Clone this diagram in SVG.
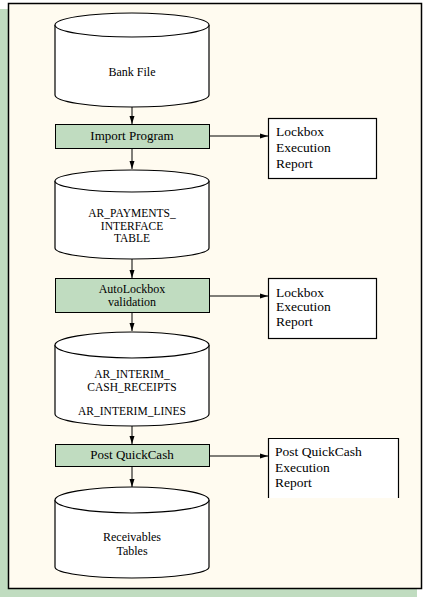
<svg xmlns="http://www.w3.org/2000/svg" width="424" height="597" viewBox="0 0 424 597">
<style>
.shape{stroke:#000;stroke-width:1.2;fill:#fff}
.proc{stroke:#000;stroke-width:1;fill:#c0dcc0}
.lbl{font-family:"Liberation Serif",serif;font-size:12px;fill:#000;text-anchor:middle}
.rep{font-family:"Liberation Serif",serif;font-size:13.5px;fill:#000}
.conn{stroke:#000;stroke-width:1;fill:none}
</style>
<defs>
<marker id="ah" viewBox="0 0 8 6" refX="8" refY="3" markerWidth="8" markerHeight="6" markerUnits="userSpaceOnUse" orient="auto">
<path d="M0,0.5 L8,3 L0,5.5 Z" fill="#000"/>
</marker>
</defs>
<rect x="0" y="0" width="424" height="597" fill="#fff"/>
<rect x="0" y="9" width="417" height="588" fill="#c0dcc0"/>
<rect x="8.5" y="3.5" width="413" height="585" fill="#fffbf0" stroke="#000" stroke-width="1.5"/>

<g id="connectors">
<line class="conn" x1="132" y1="107" x2="132" y2="124" marker-end="url(#ah)"/>
<line class="conn" x1="132" y1="148" x2="132" y2="169" marker-end="url(#ah)"/>
<line class="conn" x1="132" y1="259" x2="132" y2="278" marker-end="url(#ah)"/>
<line class="conn" x1="132" y1="313" x2="132" y2="331" marker-end="url(#ah)"/>
<line class="conn" x1="132" y1="426" x2="132" y2="444" marker-end="url(#ah)"/>
<line class="conn" x1="132" y1="466" x2="132" y2="487" marker-end="url(#ah)"/>
<line class="conn" x1="209" y1="136" x2="268" y2="136" marker-end="url(#ah)"/>
<line class="conn" x1="209" y1="296" x2="268" y2="296" marker-end="url(#ah)"/>
<line class="conn" x1="209" y1="456" x2="268" y2="456" marker-end="url(#ah)"/>
</g>

<g id="bank-file">
<path class="shape" d="M55,25 A77,12 0 0 1 209,25 L209,95 A77,12 0 0 1 55,95 Z"/>
<path class="shape" fill="none" d="M55,25 A77,12 0 0 0 209,25"/>
<text class="lbl" x="132" y="76">Bank File</text>
</g>

<g id="import-program">
<rect class="proc" x="55.5" y="124.5" width="154" height="24"/>
<text class="lbl" x="132" y="140" style="font-size:13px">Import Program</text>
</g>

<g id="report-1">
<rect class="shape" x="268.5" y="118.5" width="108" height="60"/>
<text class="rep" x="276" y="136">Lockbox</text>
<text class="rep" x="276" y="152">Execution</text>
<text class="rep" x="276" y="168">Report</text>
</g>

<g id="ar-payments">
<path class="shape" d="M55,181 A77,11 0 0 1 209,181 L209,248 A77,11 0 0 1 55,248 Z"/>
<path class="shape" fill="none" d="M55,181 A77,11 0 0 0 209,181"/>
<text class="lbl" x="132" y="217" style="font-size:11.5px">AR_PAYMENTS_</text>
<text class="lbl" x="132" y="230" style="font-size:11.5px">INTERFACE</text>
<text class="lbl" x="132" y="242" style="font-size:11.5px">TABLE</text>
</g>

<g id="autolockbox">
<rect class="proc" x="55.5" y="278.5" width="154" height="34"/>
<text class="lbl" x="132" y="292.5">AutoLockbox</text>
<text class="lbl" x="132" y="306">validation</text>
</g>

<g id="report-2">
<rect class="shape" x="268.5" y="278.5" width="108" height="60"/>
<text class="rep" x="276" y="297">Lockbox</text>
<text class="rep" x="276" y="311">Execution</text>
<text class="rep" x="276" y="326">Report</text>
</g>

<g id="ar-interim">
<path class="shape" d="M55,345 A77,13 0 0 1 209,345 L209,414 A77,12 0 0 1 55,414 Z"/>
<path class="shape" fill="none" d="M55,345 A77,13 0 0 0 209,345"/>
<text class="lbl" x="132" y="378" style="font-size:11.5px">AR_INTERIM_</text>
<text class="lbl" x="132" y="391" style="font-size:11.5px">CASH_RECEIPTS</text>
<text class="lbl" x="132" y="415" style="font-size:11.5px">AR_INTERIM_LINES</text>
</g>

<g id="post-quickcash">
<rect class="proc" x="55.5" y="444.5" width="154" height="22"/>
<text class="lbl" x="132" y="459" style="font-size:13px">Post QuickCash</text>
</g>

<g id="report-3">
<rect x="269" y="439" width="129" height="59" fill="#fff"/>
<path class="shape" fill="none" d="M268.5,498 L268.5,438.5 L398.5,438.5 L398.5,498"/>
<text class="rep" x="275" y="456">Post QuickCash</text>
<text class="rep" x="275" y="472">Execution</text>
<text class="rep" x="275" y="487">Report</text>
</g>

<g id="receivables">
<path class="shape" d="M55,500 A77,13 0 0 1 209,500 L209,567 A77,11 0 0 1 55,567 Z"/>
<path class="shape" fill="none" d="M55,500 A77,13 0 0 0 209,500"/>
<text class="lbl" x="132" y="541">Receivables</text>
<text class="lbl" x="132" y="555">Tables</text>
</g>
</svg>
